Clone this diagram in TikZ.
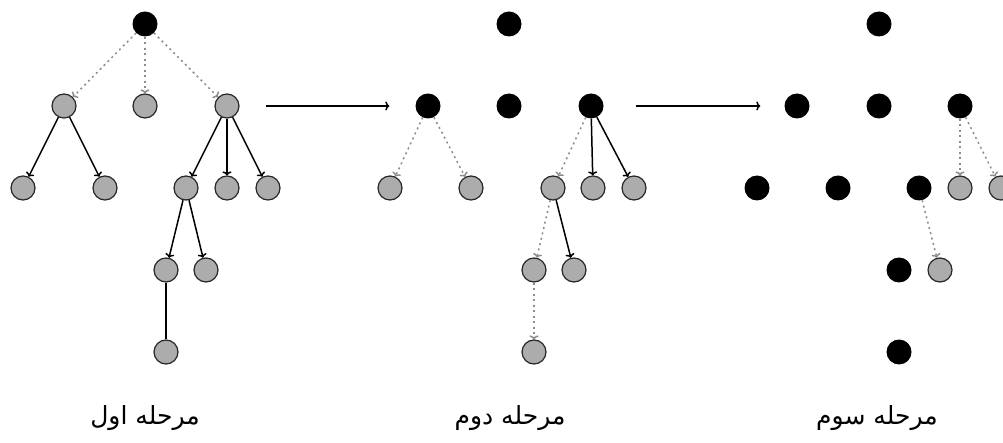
\documentclass[tikz,border=0pt]{standalone}
\usepackage{fontspec}
\newfontfamily\arabicfont[Script=Arabic]{DejaVu Sans}
\TeXXeTstate=1
\usepackage{tikz}
\usetikzlibrary{arrows.meta}

\tikzset{
  blk/.style={circle,fill=black,inner sep=0pt,minimum size=25pt},
  gry/.style={circle,draw=black!85,line width=1.2pt,fill=gray!65,inner sep=0pt,minimum size=24pt},
  hard/.style={->,line width=1.5pt},
  soft/.style={->,line width=1.5pt,gray!90,dash pattern=on 2pt off 3.5pt},
  stage/.style={font=\arabicfont\fontsize{25}{28}\selectfont}
}

\begin{document}
\begin{tikzpicture}[x=1pt,y=-1pt,>={To[length=4pt,width=9pt]}]
\useasboundingbox (0,0) rectangle (1003,443);

% Stage one
\node[blk] (A0) at (145,24) {};
\node[gry] (A1) at (64,106) {};
\node[gry] (A2) at (145,106) {};
\node[gry] (A3) at (227,106) {};
\node[gry] (A4) at (23,188) {};
\node[gry] (A5) at (105,188) {};
\node[gry] (A6) at (186,188) {};
\node[gry] (A7) at (227,188) {};
\node[gry] (A8) at (268,188) {};
\node[gry] (A9) at (166,270) {};
\node[gry] (A10) at (206,270) {};
\node[gry] (A11) at (166,352) {};
\foreach \t in {A1,A2,A3} \draw[soft] (A0) -- (\t);
\foreach \t in {A4,A5} \draw[hard] (A1) -- (\t);
\foreach \t in {A6,A7,A8} \draw[hard] (A3) -- (\t);
\foreach \t in {A9,A10} \draw[hard] (A6) -- (\t);
\draw[line width=1.5pt] (A9) -- (A11);
\node[stage] (L1) at (145,418) {\beginR مرحله اول\endR};

% Stage two
\node[blk] (B0) at (509,24) {};
\node[blk] (B1) at (428,106) {};
\node[blk] (B2) at (509,106) {};
\node[blk] (B3) at (591,106) {};
\node[gry] (B4) at (390,188) {};
\node[gry] (B5) at (471,188) {};
\node[gry] (B6) at (553,188) {};
\node[gry] (B7) at (593,188) {};
\node[gry] (B8) at (634,188) {};
\node[gry] (B9) at (534,270) {};
\node[gry] (B10) at (574,270) {};
\node[gry] (B11) at (534,352) {};
\foreach \t in {B4,B5} \draw[soft] (B1) -- (\t);
\draw[soft] (B3) -- (B6);
\foreach \t in {B7,B8} \draw[hard] (B3) -- (\t);
\draw[soft] (B6) -- (B9);
\draw[hard] (B6) -- (B10);
\draw[soft] (B9) -- (B11);
\node[stage] (L2) at (510,418) {\beginR مرحله دوم\endR};

% Stage three
\node[blk] (C0) at (879,24) {};
\node[blk] (C1) at (797,106) {};
\node[blk] (C2) at (879,106) {};
\node[blk] (C3) at (960,106) {};
\node[blk] (C4) at (757,188) {};
\node[blk] (C5) at (838,188) {};
\node[blk] (C6) at (919,188) {};
\node[gry] (C7) at (960,188) {};
\node[gry] (C8) at (1001,188) {};
\node[blk] (C9) at (899,270) {};
\node[gry] (C10) at (940,270) {};
\node[blk] (C11) at (899,352) {};
\foreach \t in {C7,C8} \draw[soft] (C3) -- (\t);
\draw[soft] (C6) -- (C10);
\node[stage] (L3) at (877,418) {\beginR مرحله سوم\endR};

% Between the stages
\draw[->,line width=1.5pt,shorten <=26pt,shorten >=26pt] (A3) -- (B1);
\draw[->,line width=1.5pt,shorten <=32pt,shorten >=24pt] (B3) -- (C1);
\end{tikzpicture}
\end{document}
